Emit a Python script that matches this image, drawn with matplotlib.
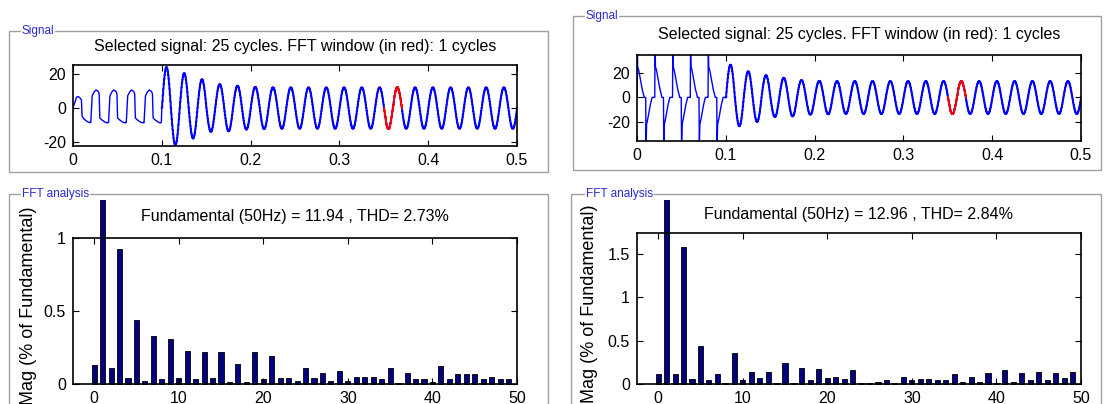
import numpy as np
import matplotlib.pyplot as plt
from matplotlib.patches import Rectangle
from matplotlib.transforms import Bbox, TransformedBbox

plt.rcParams['font.family'] = ['Liberation Sans', 'DejaVu Sans']

W, H = 1107, 404

# ---- spectra: harmonic order 0..49, magnitude in % of fundamental ----
orders = list(range(50))
mag_a = [0.13, 100, 0.113, 0.92, 0.045, 0.44, 0.025, 0.327, 0.034, 0.308,
         0.043, 0.227, 0.034, 0.22, 0.043, 0.22, 0.016, 0.14, 0.016, 0.22,
         0.034, 0.193, 0.043, 0.043, 0.025, 0.113, 0.043, 0.077, 0.025, 0.088,
         0.025, 0.052, 0.052, 0.052, 0.034, 0.113, 0.007, 0.077, 0.034, 0.034,
         0.016, 0.124, 0.034, 0.07, 0.07, 0.07, 0.034, 0.052, 0.034, 0.034]
mag_b = [0.118, 100, 0.118, 1.572, 0.061, 0.444, 0.046, 0.118, 0.015, 0.357,
         0.046, 0.144, 0.072, 0.144, 0.015, 0.243, 0.015, 0.186, 0.046, 0.175,
         0.072, 0.087, 0.061, 0.164, 0.011, 0.011, 0.03, 0.046, 0.011, 0.088,
         0.046, 0.061, 0.061, 0.046, 0.046, 0.118, 0.03, 0.088, 0.03, 0.13,
         0.011, 0.164, 0.03, 0.13, 0.046, 0.145, 0.046, 0.13, 0.072, 0.145]
fund_a, thd_a = 11.94, 2.73
fund_b, thd_b = 12.96, 2.84

# ---- time signals ----
# 0..0.1 s: breakpoints of the waveform before the switching event
head_first_t = [0.0, 0.002, 0.004, 0.006, 0.0085, 0.0095, 0.0102, 0.012, 0.016, 0.0192]
head_first_a = [0.0, 3.0, 6.2, 6.6, 5.4, 4.5, -5.0, -6.5, -8.2, -8.8]
head_cycle_t = [0.0, 0.0008, 0.0016, 0.004, 0.006, 0.0085, 0.0095, 0.0102, 0.012, 0.016, 0.0185, 0.0195]
head_cycle_a = [-8.8, -1.0, 7.0, 9.5, 10.5, 9.5, 8.0, -6.0, -7.0, -8.5, -9.0, -8.6]
head_cycle_b = [0.0, 40.0, 25.0, 22.0, 18.0, 14.0, 10.0, 6.0, 2.0, 0.0, 0.0,
                -40.0, -22.0, -18.0, -14.0, -10.0, -6.0, -3.0, 0.0, 0.0]
head_cycle_bt = [0.0, 0.0003, 0.0008, 0.002, 0.003, 0.004, 0.005, 0.006, 0.0075, 0.008, 0.0098,
                 0.0102, 0.0108, 0.012, 0.013, 0.014, 0.015, 0.016, 0.017, 0.0198]

# 0.1..0.5 s: peak value of each 10 ms half cycle
half_peaks_a = [24.0, 22.2, 20.4, 18.2, 16.8, 14.2, 13.9, 13.9, 13.0, 12.9,
                12.3, 12.6, 12.0, 12.4, 12.0, 12.4, 12.0, 12.4, 12.0, 12.4,
                12.0, 12.4, 12.0, 12.4, 12.0, 12.4, 12.0, 12.4, 12.0, 12.4,
                12.0, 12.4, 12.0, 12.4, 12.0, 12.4, 12.0, 12.4, 12.0, 12.4]
half_peaks_b = [26.7, 23.5, 21.3, 20.0, 18.1, 16.0, 16.0, 15.5, 14.1, 14.1,
                13.5, 13.8, 13.3, 13.5, 13.3, 13.5, 13.3, 13.5, 13.3, 13.5,
                13.3, 13.5, 13.3, 13.5, 13.3, 13.5, 13.3, 13.5, 13.3, 13.5,
                13.3, 13.5, 13.3, 13.5, 13.3, 13.5, 13.3, 13.5, 13.3, 13.5]
fft_win = (0.35, 0.37)

fig = plt.figure(figsize=(W / 100, H / 100), dpi=100)


def px_axes(x0, y0, x1, y1):
    return fig.add_axes([x0 / W, 1 - y1 / H, (x1 - x0) / W, (y1 - y0) / H])


def px_text(x, y, s, **kw):
    return fig.text(x / W, 1 - y / H, s, **kw)


def frame(x0, y0, x1, y1, label, lx):
    fig.add_artist(Rectangle((x0 / W, 1 - y1 / H), (x1 - x0) / W, (y1 - y0) / H,
                             transform=fig.transFigure, fill=False,
                             edgecolor='#a0a0a0', lw=1.0, clip_on=False))
    px_text(lx, y0, label, color='#2a2ad0', fontsize=8.5, va='center', ha='left',
            bbox=dict(facecolor='white', edgecolor='none', pad=0.5))


def style(ax):
    ax.tick_params(direction='in', top=True, right=True, length=4, width=0.8,
                   labelsize=11.5, pad=5)
    for sp in ax.spines.values():
        sp.set_linewidth(1.2)


def build_signal(first_t, first_a, cyc_t, cyc_a, peaks):
    # head: breakpoints repeated every 20 ms
    ht = list(first_t)
    ha = list(first_a)
    for k in range(1, 5):
        ht += [0.02 * k + v for v in cyc_t]
        ha += list(cyc_a)
    # tail: sampled sine with half-cycle peaks
    tt = np.arange(0.1, 0.5 + 1e-9, 0.0005)
    idx = np.clip(((tt - 0.1) / 0.01).astype(int), 0, len(peaks) - 1)
    ta = np.array(peaks)[idx] * np.sin(2 * np.pi * 50 * tt)
    ht.append(0.1)
    ha.append(ta[0])
    return np.array(ht), np.array(ha), tt, ta


def signal_panel(ax, sig, ylim):
    ht, ha, tt, ta = sig
    ax.plot(ht, ha, color='#0000ff', lw=1.0)
    ax.plot(tt, ta, color='#0000ff', lw=1.4, drawstyle='steps-post')
    w = (tt >= fft_win[0] - 1e-9) & (tt <= fft_win[1] + 1e-9)
    ax.plot(tt[w], ta[w], color='#ff0000', lw=1.4, drawstyle='steps-post')
    ax.set_xlim(0, 0.5)
    ax.set_ylim(*ylim)
    ax.set_xticks([0, 0.1, 0.2, 0.3, 0.4, 0.5])
    ax.set_xticklabels(['0', '0.1', '0.2', '0.3', '0.4', '0.5'])
    ax.set_yticks([-20, 0, 20])
    ax.set_yticklabels(['-20', '0', '20'])
    style(ax)


def fft_panel(ax, mags, ylim, yticks):
    bars = ax.bar(orders, mags, width=0.6, color='#000080', edgecolor='black', lw=0.6)
    # bars may rise above the axes but stay inside the panel
    box = TransformedBbox(Bbox.from_extents(0, 0, 1, 1 - 200 / H), fig.transFigure)
    for b in bars:
        b.set_clip_box(box)
    ax.set_xlim(-2.5, 50)
    ax.set_ylim(*ylim)
    ax.set_xticks([0, 10, 20, 30, 40, 50])
    ax.set_yticks(yticks)
    ax.set_yticklabels(['%g' % v for v in yticks])
    style(ax)


sig_a = build_signal(head_first_t, head_first_a, head_cycle_t, head_cycle_a, half_peaks_a)
sig_b = build_signal(head_cycle_bt, head_cycle_b, head_cycle_bt, head_cycle_b, half_peaks_b)

# left half
frame(8.5, 31, 548, 172, 'Signal', 22)
frame(8.5, 194, 548, 430, 'FFT analysis', 22)
ax1 = px_axes(73, 64.5, 517, 146)
signal_panel(ax1, sig_a, (-22.6, 25.5))
px_text(295, 46, 'Selected signal: 25 cycles. FFT window (in red): 1 cycles',
        fontsize=11.5, ha='center', va='center')
ax2 = px_axes(73, 237.7, 517, 384.3)
fft_panel(ax2, mag_a, (0, 1.0), [0, 0.5, 1])
px_text(295, 217, 'Fundamental (50Hz) = %.2f , THD= %.2f%%' % (fund_a, thd_a),
        fontsize=11.5, ha='center', va='center')
px_text(29, 306, 'Mag (% of Fundamental)', fontsize=13, rotation=90,
        ha='center', va='center')

# right half
frame(573, 16, 1101, 170, 'Signal', 586)
frame(570.5, 194, 1101, 430, 'FFT analysis', 586)
ax3 = px_axes(637, 55, 1081, 141)
signal_panel(ax3, sig_b, (-35.6, 34.6))
px_text(859, 35, 'Selected signal: 25 cycles. FFT window (in red): 1 cycles',
        fontsize=11.5, ha='center', va='center')
ax4 = px_axes(637, 232.7, 1081, 384.3)
fft_panel(ax4, mag_b, (0, 1.74), [0, 0.5, 1, 1.5])
px_text(859, 214, 'Fundamental (50Hz) = %.2f , THD= %.2f%%' % (fund_b, thd_b),
        fontsize=11.5, ha='center', va='center')
px_text(590, 304, 'Mag (% of Fundamental)', fontsize=13, rotation=90,
        ha='center', va='center')

fig.savefig('out.png', dpi=100)
